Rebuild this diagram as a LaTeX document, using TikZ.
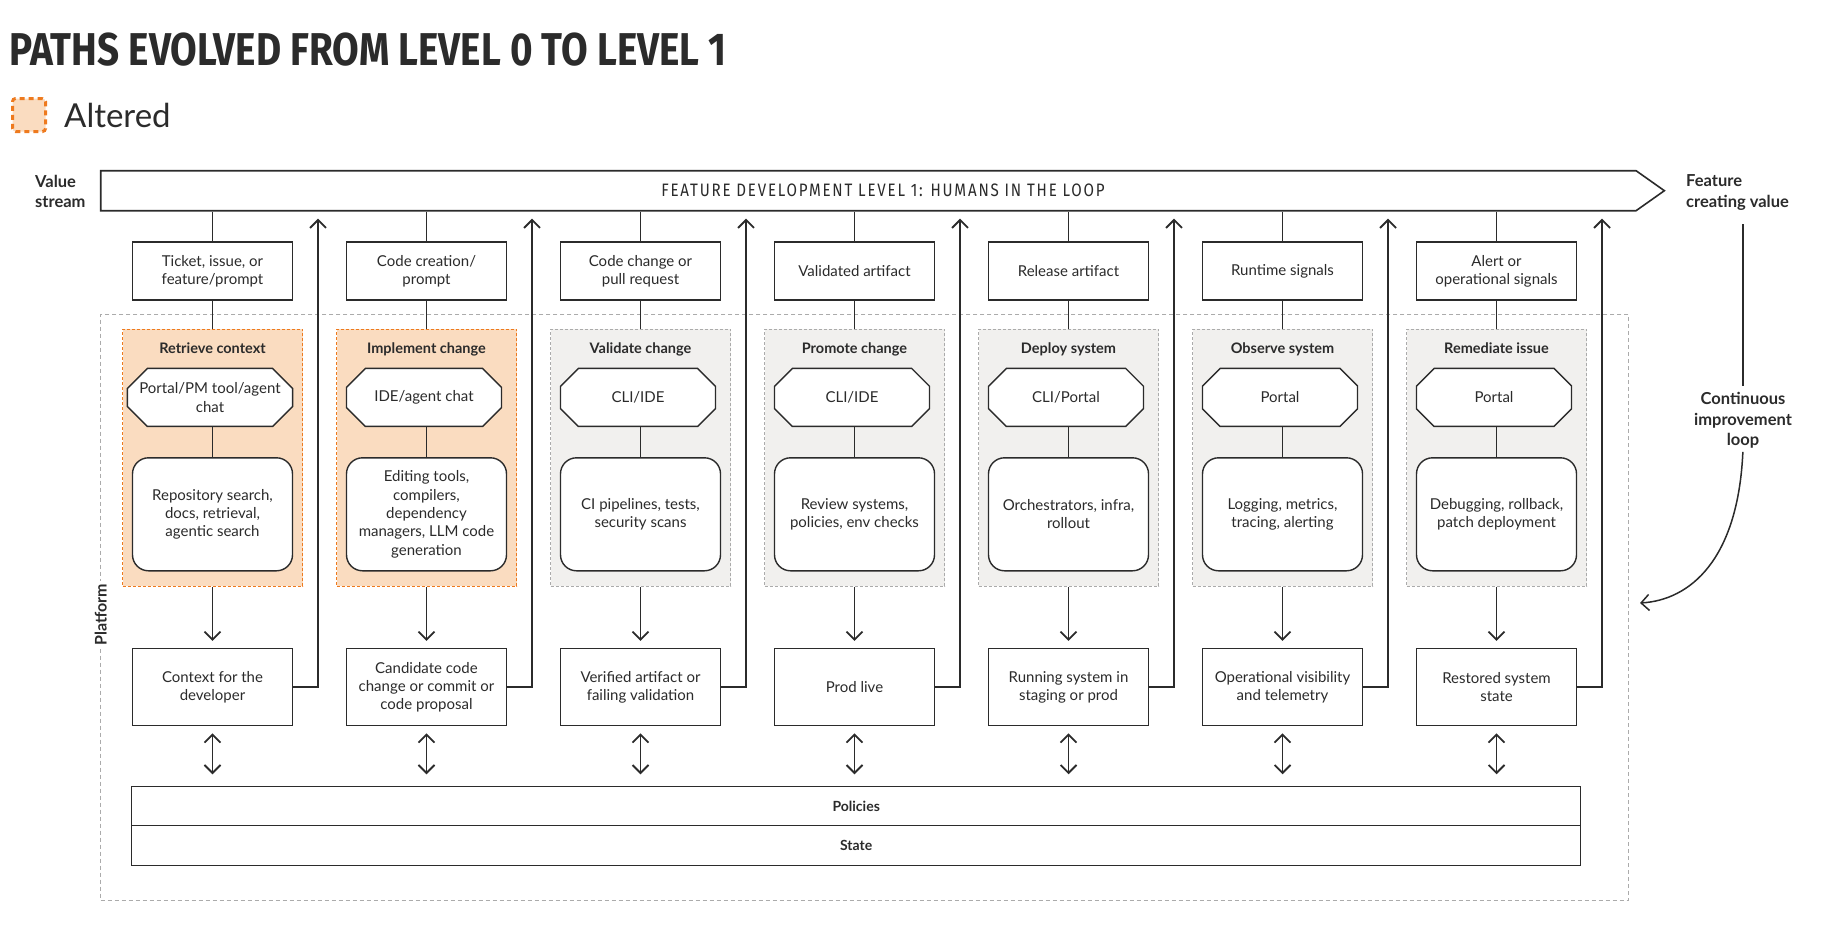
\documentclass[tikz,border=0pt]{standalone}
\usepackage{fontspec}
\setmainfont{Lato}
\newfontfamily\condfont[FakeStretch=0.84]{Fira Sans}
\newfontfamily\spacedfont[FakeStretch=0.84, LetterSpace=10]{Fira Sans}
\usetikzlibrary{positioning, arrows.meta, shapes.misc, shapes.symbols}

\definecolor{ink}{HTML}{2B2B2B}
\definecolor{peach}{HTML}{FADCC0}
\definecolor{rust}{HTML}{EE7A1E}
\definecolor{fog}{HTML}{F1F0EE}
\definecolor{ash}{HTML}{ABABAB}

\begin{document}
\begin{tikzpicture}[x=1pt, y=-1pt, >={Straight Barb[length=8pt, width=16pt]}]

  % Define box styles
  \tikzset{
    link/.style={draw=ink, line width=1.8pt},
    loop line/.style={draw=ink, line width=1.5pt},
    box text/.style={text=ink, align=center, font=\fontsize{15}{18.3}\selectfont},
    input box/.style={box text, draw=ink, line width=1.4pt, fill=white,
      minimum width=160pt, minimum height=58pt, inner sep=2pt},
    output box/.style={input box, minimum height=77pt},
    tool box/.style={box text, chamfered rectangle, chamfered rectangle xsep=10pt,
      chamfered rectangle ysep=10pt, draw=ink, line width=1.4pt, fill=white,
      minimum width=155pt, minimum height=58pt, inner sep=2pt},
    system box/.style={input box, rounded corners=16pt, minimum height=113pt},
    altered stage/.style={fill=peach, draw=rust, line width=1.2pt,
      dash pattern=on 3pt off 2pt, minimum width=180pt, minimum height=257pt, inner sep=0pt},
    kept stage/.style={altered stage, fill=fog, draw=ash},
    stage head/.style={text=ink, font=\bfseries\fontsize{14.5}{14.5}\selectfont,
      inner sep=0pt, text height=11pt, text depth=3pt},
    layer box/.style={draw=ink, line width=1.4pt, fill=white, minimum width=1449pt,
      minimum height=39.5pt, outer sep=0pt, text=ink, font=\bfseries\fontsize{14}{14}\selectfont},
    platform box/.style={draw=ash, line width=1pt, dash pattern=on 4pt off 3pt,
      minimum width=1528pt, minimum height=585.7pt, inner sep=0pt},
    altered key/.style={fill=peach, draw=rust, line width=3pt, dash pattern=on 5pt off 4pt,
      rounded corners=3pt, minimum size=33pt, inner sep=0pt},
    side text/.style={text=ink, font=\bfseries\fontsize{16.5}{20.6}\selectfont, inner sep=0pt},
  }

  \useasboundingbox (0,0) rectangle (1838,930);

  % Title and legend
  \node[anchor=west, inner sep=0pt, text=ink, font=\condfont\bfseries\fontsize{46}{46}\selectfont]
    (title) at (9,50) {PATHS EVOLVED FROM LEVEL 0 TO LEVEL 1};
  \node[altered key] (key) at (29,115) {};
  \node[right=17pt of key, inner sep=0pt, text=ink, font=\fontsize{33}{33}\selectfont] (keytext) {Altered};

  % Platform frame with policies and state
  \node[platform box] (pf) at (864.7,607.2) {};
  \node[rotate=90, fill=white, inner sep=3pt, text=ink, font=\bfseries\fontsize{16}{16}\selectfont]
    (pflabel) at (100.7,615) {Platform};
  \node[layer box] (pol) at (856.2,806) {Policies};
  \node[layer box, below=0pt of pol] (st) {State};

  % Value stream
  \node[signal, signal to=east, signal pointer angle=70.5, draw=ink, line width=1.6pt, fill=white,
    minimum width=1563.6pt, minimum height=40pt, inner sep=0pt]
    (vs) at (868.4,190.7) {};
  \node[inner sep=0pt, text=ink, font=\spacedfont\fontsize{18}{18}\selectfont]
    (vstitle) at (883,190.7) {FEATURE DEVELOPMENT LEVEL 1: HUMANS IN THE LOOP};
  \node[side text, anchor=west, align=left] (vslabel) at (35,191.5) {Value\\stream};
  \node[side text, anchor=west, align=left] (fcv) at (1686,192.5) {Feature\\creating value};

  % Retrieve context
  \node[input box] (t1) at (212.5,271) {Ticket, issue, or\\feature/prompt};
  \node[altered stage, below=28pt of t1] (s1) {};
  \node[stage head, below=13.5pt of s1.north] (h1) {Retrieve context};
  \node[tool box, below=39pt of s1.north, xshift=-2.5pt] (k1) {Portal/PM tool/agent\\chat};
  \node[system box, below=30pt of k1, xshift=2.5pt] (y1) {Repository search,\\docs, retrieval,\\agentic search};
  \node[output box, below=61pt of s1] (o1) {Context for the\\developer};
  \coordinate (r1) at (318,210.7);
  \draw[link] (t1 |- vs.south) -- (t1);
  \draw[link] (t1) -- (s1);
  \draw[link] (k1.south -| y1) -- (y1);
  \draw[link, ->, shorten >=7pt] (s1) -- (o1);
  \draw[link, ->, shorten >=8pt] (o1.east) -| (r1);
  \draw[link, <->, shorten <=7pt, shorten >=12pt] (o1) -- (o1 |- pol.north);

  % Implement change
  \node[input box] (t2) at (426.5,271) {Code creation/\\prompt};
  \node[altered stage, below=28pt of t2] (s2) {};
  \node[stage head, below=13.5pt of s2.north] (h2) {Implement change};
  \node[tool box, below=39pt of s2.north, xshift=-2.5pt] (k2) {IDE/agent chat};
  \node[system box, below=30pt of k2, xshift=2.5pt] (y2) {Editing tools,\\compilers,\\dependency\\managers, LLM code\\generation};
  \node[output box, below=61pt of s2] (o2) {Candidate code\\change or commit or\\code proposal};
  \coordinate (r2) at (532,210.7);
  \draw[link] (t2 |- vs.south) -- (t2);
  \draw[link] (t2) -- (s2);
  \draw[link] (k2.south -| y2) -- (y2);
  \draw[link, ->, shorten >=7pt] (s2) -- (o2);
  \draw[link, ->, shorten >=8pt] (o2.east) -| (r2);
  \draw[link, <->, shorten <=7pt, shorten >=12pt] (o2) -- (o2 |- pol.north);

  % Validate change
  \node[input box] (t3) at (640.5,271) {Code change or\\pull request};
  \node[kept stage, below=28pt of t3] (s3) {};
  \node[stage head, below=13.5pt of s3.north] (h3) {Validate change};
  \node[tool box, below=39pt of s3.north, xshift=-2.5pt] (k3) {CLI/IDE};
  \node[system box, below=30pt of k3, xshift=2.5pt] (y3) {CI pipelines, tests,\\security scans};
  \node[output box, below=61pt of s3] (o3) {Verified artifact or\\failing validation};
  \coordinate (r3) at (746,210.7);
  \draw[link] (t3 |- vs.south) -- (t3);
  \draw[link] (t3) -- (s3);
  \draw[link] (k3.south -| y3) -- (y3);
  \draw[link, ->, shorten >=7pt] (s3) -- (o3);
  \draw[link, ->, shorten >=8pt] (o3.east) -| (r3);
  \draw[link, <->, shorten <=7pt, shorten >=12pt] (o3) -- (o3 |- pol.north);

  % Promote change
  \node[input box] (t4) at (854.5,271) {Validated artifact};
  \node[kept stage, below=28pt of t4] (s4) {};
  \node[stage head, below=13.5pt of s4.north] (h4) {Promote change};
  \node[tool box, below=39pt of s4.north, xshift=-2.5pt] (k4) {CLI/IDE};
  \node[system box, below=30pt of k4, xshift=2.5pt] (y4) {Review systems,\\policies, env checks};
  \node[output box, below=61pt of s4] (o4) {Prod live};
  \coordinate (r4) at (960,210.7);
  \draw[link] (t4 |- vs.south) -- (t4);
  \draw[link] (t4) -- (s4);
  \draw[link] (k4.south -| y4) -- (y4);
  \draw[link, ->, shorten >=7pt] (s4) -- (o4);
  \draw[link, ->, shorten >=8pt] (o4.east) -| (r4);
  \draw[link, <->, shorten <=7pt, shorten >=12pt] (o4) -- (o4 |- pol.north);

  % Deploy system
  \node[input box] (t5) at (1068.5,271) {Release artifact};
  \node[kept stage, below=28pt of t5] (s5) {};
  \node[stage head, below=13.5pt of s5.north] (h5) {Deploy system};
  \node[tool box, below=39pt of s5.north, xshift=-2.5pt] (k5) {CLI/Portal};
  \node[system box, below=30pt of k5, xshift=2.5pt] (y5) {Orchestrators, infra,\\rollout};
  \node[output box, below=61pt of s5] (o5) {Running system in\\staging or prod};
  \coordinate (r5) at (1174,210.7);
  \draw[link] (t5 |- vs.south) -- (t5);
  \draw[link] (t5) -- (s5);
  \draw[link] (k5.south -| y5) -- (y5);
  \draw[link, ->, shorten >=7pt] (s5) -- (o5);
  \draw[link, ->, shorten >=8pt] (o5.east) -| (r5);
  \draw[link, <->, shorten <=7pt, shorten >=12pt] (o5) -- (o5 |- pol.north);

  % Observe system
  \node[input box] (t6) at (1282.5,271) {Runtime signals};
  \node[kept stage, below=28pt of t6] (s6) {};
  \node[stage head, below=13.5pt of s6.north] (h6) {Observe system};
  \node[tool box, below=39pt of s6.north, xshift=-2.5pt] (k6) {Portal};
  \node[system box, below=30pt of k6, xshift=2.5pt] (y6) {Logging, metrics,\\tracing, alerting};
  \node[output box, below=61pt of s6] (o6) {Operational visibility\\and telemetry};
  \coordinate (r6) at (1388,210.7);
  \draw[link] (t6 |- vs.south) -- (t6);
  \draw[link] (t6) -- (s6);
  \draw[link] (k6.south -| y6) -- (y6);
  \draw[link, ->, shorten >=7pt] (s6) -- (o6);
  \draw[link, ->, shorten >=8pt] (o6.east) -| (r6);
  \draw[link, <->, shorten <=7pt, shorten >=12pt] (o6) -- (o6 |- pol.north);

  % Remediate issue
  \node[input box] (t7) at (1496.5,271) {Alert or\\operational signals};
  \node[kept stage, below=28pt of t7] (s7) {};
  \node[stage head, below=13.5pt of s7.north] (h7) {Remediate issue};
  \node[tool box, below=39pt of s7.north, xshift=-2.5pt] (k7) {Portal};
  \node[system box, below=30pt of k7, xshift=2.5pt] (y7) {Debugging, rollback,\\patch deployment};
  \node[output box, below=61pt of s7] (o7) {Restored system\\state};
  \coordinate (r7) at (1602,210.7);
  \draw[link] (t7 |- vs.south) -- (t7);
  \draw[link] (t7) -- (s7);
  \draw[link] (k7.south -| y7) -- (y7);
  \draw[link, ->, shorten >=7pt] (s7) -- (o7);
  \draw[link, ->, shorten >=8pt] (o7.east) -| (r7);
  \draw[link, <->, shorten <=7pt, shorten >=12pt] (o7) -- (o7 |- pol.north);

  % Continuous improvement loop
  \node[side text, align=center] (loop) at (1743,420.5) {Continuous\\improvement\\loop};
  \coordinate (back) at (1640,603);
  \draw[loop line, shorten <=14pt, shorten >=6pt] (loop.north |- fcv.south) -- (loop.north);
  \draw[loop line, ->, shorten <=3pt] (loop.south) .. controls (1738,560) and (1690,600) .. (back);

\end{tikzpicture}
\end{document}
